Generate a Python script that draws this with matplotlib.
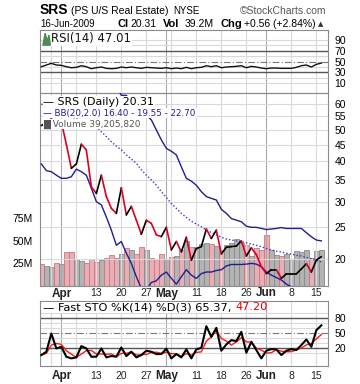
import matplotlib
matplotlib.use('Agg')
import matplotlib.pyplot as plt
import numpy as np
import pandas as pd
import matplotlib.transforms as mtrans

# ---------------- data ----------------
holidays = ['2009-04-10', '2009-05-25']
dates = [d for d in pd.bdate_range('2009-03-26', '2009-06-16') if d.strftime('%Y-%m-%d') not in holidays]

close = [51.5, 52.5, 54.0, 51.8, 52.8, 45.1, 38.0, 39.2, 45.1, 43.3,
         33.3, 31.8, 36.2, 31.1, 28.6, 27.6, 33.1, 27.3, 29.0, 26.3,
         23.8, 26.3, 25.7, 23.7, 23.4, 25.0, 21.3, 22.6, 21.0, 23.3,
         19.8, 21.5, 21.8, 24.7, 23.1, 24.5, 20.7, 21.7, 21.8, 21.9,
         22.7, 20.4, 21.6, 20.6, 18.9, 18.0, 18.5, 18.5, 17.4, 17.96,
         17.96, 17.96, 18.6, 19.3, 18.2, 19.8, 20.31]

bb_upper = [88.0, 86.0, 84.0, 82.0, 80.0, 79.0, 78.0, 76.0, 75.0, 74.0,
            73.0, 72.0, 71.0, 70.0, 69.0, 68.0, 63.8, 63.8, 61.0, 59.0,
            57.0, 55.5, 53.6, 49.9, 46.5, 43.8, 42.9, 41.8, 38.4, 35.4,
            34.7, 33.7, 32.2, 31.1, 30.7, 30.35, 28.4, 27.6, 26.6, 26.3,
            26.0, 25.2, 25.0, 25.0, 24.8, 24.6, 24.7, 24.8, 24.95, 24.8,
            24.8, 24.8, 24.8, 24.06, 23.38, 22.84, 22.70]

bb_mid = [60.0, 59.0, 58.0, 57.0, 56.0, 55.5, 54.8, 54.0, 53.3, 52.5,
          52.0, 51.07, 49.3, 47.6, 45.9, 44.5, 43.3, 41.8, 40.6, 39.4,
          37.6, 36.2, 34.98, 33.7, 32.2, 30.9, 29.6, 28.6, 27.6, 26.8,
          26.1, 25.6, 25.1, 24.5, 24.1, 23.7, 23.3, 23.0, 22.84, 22.7,
          22.57, 22.4, 22.2, 22.0, 21.78, 21.5, 21.3, 21.1, 20.97, 20.8,
          20.67, 20.5, 20.4, 20.2, 20.0, 19.8, 19.55]

bb_lower = [39.2, 37.4, 37.1, 36.2, 35.4, 35.4, 35.8, 37.8, 37.1, 36.2,
            33.0, 30.0, 29.3, 26.9, 24.5, 22.0, 22.6, 20.8, 19.35, 17.6,
            16.2, 16.0, 16.9, 17.1, 17.8, 18.2, 17.4, 16.7, 17.6, 18.5,
            17.8, 17.4, 18.0, 18.2, 18.2, 18.4, 18.5, 19.0, 19.2, 19.2,
            19.2, 19.25, 19.35, 19.25, 18.9, 18.2, 17.8, 17.5, 17.2, 16.7,
            16.4, 16.3, 16.2, 16.2, 16.3, 16.35, 16.40]

volume_m = [24.3, 22.1, 21.3, 25.0, 23.9, 37.2, 37.2, 29.8, 28.0, 25.0,
            29.4, 26.5, 28.3, 30.5, 34.2, 30.5, 35.3, 41.6, 39.7, 35.3,
            42.7, 39.7, 31.3, 29.4, 35.3, 29.8, 32.4, 33.1, 39.7, 49.7,
            43.4, 43.0, 46.0, 47.0, 46.0, 44.0, 40.0, 45.0, 48.0, 52.0,
            48.0, 45.0, 33.0, 42.0, 40.0, 56.3, 40.0, 34.0, 33.0, 35.0,
            30.0, 39.0, 37.0, 40.0, 31.0, 39.0, 39.2]

rsi = [40.4, 43.5, 46.6, 43.5, 42.9, 40.4, 38.5, 39.2, 42.2, 40.4,
       36.7, 38.5, 39.8, 37.3, 36.7, 37.3, 39.8, 38.5, 39.8, 38.5,
       37.3, 39.2, 38.5, 37.9, 37.3, 38.5, 36.7, 37.9, 36.7, 39.2,
       36.7, 38.5, 39.2, 42.2, 40.4, 42.2, 38.5, 39.8, 40.4, 41.0,
       42.2, 38.5, 41.0, 39.8, 37.9, 36.7, 37.9, 37.9, 37.3, 37.3,
       37.3, 39.2, 42.2, 43.5, 39.8, 44.8, 47.01]

sto_k = [6.9, 13.4, 49.3, 19.9, 23.2, 3.6, 0.3, 2.3, 24.5, 19.9,
         3.6, 3.6, 19.9, 2.3, 4.9, 3.6, 21.9, 4.9, 13.4, 2.3,
         6.9, 15.4, 13.4, 8.8, 8.8, 19.3, 0.3, 8.8, 2.3, 18.0,
         0.3, 18.0, 21.2, 63.7, 42.8, 60.5, 15.4, 27.8, 36.3, 34.3,
         52.6, 11.4, 33.0, 16.7, 0.3, 15.4, 18.6, 18.0, 6.9, 15.4,
         18.6, 16.7, 26.5, 37.6, 23.0, 55.9, 65.37]

sto_d = [6.9, 10.2, 26.5, 29.7, 28.0, 15.4, 8.8, 2.3, 8.8, 15.4,
         16.0, 9.0, 9.0, 8.5, 9.0, 3.6, 10.2, 10.2, 13.4, 6.9,
         7.5, 8.2, 11.9, 12.5, 10.3, 12.3, 9.5, 9.5, 3.8, 9.7,
         6.9, 12.1, 13.2, 34.3, 42.6, 55.7, 39.6, 34.6, 26.5, 32.8,
         41.1, 32.8, 32.3, 20.4, 16.7, 10.8, 11.4, 17.3, 14.5, 13.4,
         13.6, 16.9, 20.6, 26.9, 29.0, 38.8, 47.20]

price_ticks = [20, 25, 30, 35, 40, 45, 50, 55, 60]
rsi_ticks = [10, 30, 50, 70, 90]
sto_ticks = [20, 50, 80]
vol_ticks = [25, 50, 75]
vol_labels = ['25M', '50M', '75M']

# ---------------- layout helpers ----------------
W, H = 360, 384
fig = plt.figure(figsize=(W / 100, H / 100), dpi=100)
fig.patch.set_facecolor('white')

def ax_at(x0, y0, x1, y1):
    return fig.add_axes([x0 / W, 1 - y1 / H, (x1 - x0) / W, (y1 - y0) / H])

n = len(close)
x = np.arange(n)
XL = (-0.27, 57.33)
TICKF = 'Liberation Sans'
GRID = '#d9d9d9'
MONTHG = '#a8a8a8'
BORDER = '#8a8a8a'

# week / month gridlines from dates
week_idx, month_idx = [], []
for i, d in enumerate(dates):
    if i == 0:
        continue
    if d.month != dates[i - 1].month:
        month_idx.append(i)
    elif d.weekday() < dates[i - 1].weekday():
        week_idx.append(i)
label_idx, label_txt, label_bold = [], [], []
for i in sorted(set(week_idx + month_idx)):
    if i in month_idx:
        label_idx.append(i); label_txt.append(dates[i].strftime('%b')); label_bold.append(True)
    else:
        near = any(abs(i - m) <= 3 for m in month_idx)
        if not near:
            label_idx.append(i); label_txt.append(str(dates[i].day)); label_bold.append(False)

def style_panel(ax):
    ax.set_xlim(*XL)
    for s in ax.spines.values():
        s.set_color(BORDER); s.set_linewidth(0.8)
    ax.yaxis.tick_right()
    ax.tick_params(left=False, bottom=False, labelbottom=False, labelleft=False,
                   right=False, labelright=True, pad=1, labelsize=7.5)
    for i in week_idx:
        ax.axvline(i, color=GRID, lw=0.8, zorder=0)
    for i in month_idx:
        ax.axvline(i, color=MONTHG, lw=0.8, zorder=0)

def date_labels(y):
    for i, t, b in zip(label_idx, label_txt, label_bold):
        xp = 40 + (i - XL[0]) / (XL[1] - XL[0]) * 288
        fig.text(xp / W, 1 - y / H, t, ha='center', va='center', family=TICKF,
                 fontsize=8.5 if b else 7.5, fontweight='bold' if b else 'normal', color='#222')

# ---------------- header ----------------
fig.text(40 / W, 1 - 10 / H, 'SRS', family=TICKF, fontweight='bold', fontsize=10, va='center')
fig.text(71 / W, 1 - 10.5 / H, '(PS U/S Real Estate)', family=TICKF, fontsize=7.5, va='center')
fig.text(173 / W, 1 - 10.5 / H, 'NYSE', family=TICKF, fontsize=7, va='center')
fig.text(326 / W, 1 - 11 / H, '\u00a9StockCharts.com', family=TICKF, fontsize=7.5, va='center', ha='right', color='#555')
yl2 = 1 - 24 / H
fig.text(40 / W, yl2, '16-Jun-2009', family=TICKF, fontsize=7, va='center')
fig.text(117 / W, yl2, 'Cl', family=TICKF, fontsize=8, fontweight='bold', va='center')
fig.text(130 / W, yl2, '20.31', family=TICKF, fontsize=7.5, va='center')
fig.text(163 / W, yl2, 'Vol', family=TICKF, fontsize=8, fontweight='bold', va='center')
fig.text(185 / W, yl2, '39.2M', family=TICKF, fontsize=7.5, va='center')
fig.text(220 / W, yl2, 'Chg', family=TICKF, fontsize=8, fontweight='bold', va='center')
fig.text(244.5 / W, yl2, '+0.56 (+2.84%)', family=TICKF, fontsize=7.5, va='center')
fig.text(318 / W, yl2, '\u25b2', family='DejaVu Sans', fontsize=5, va='center', color='#333')

# ---------------- RSI panel ----------------
ax_r = ax_at(40, 30, 328, 93)
style_panel(ax_r)
ax_r.set_ylim(-8.3, 108.3)
for v in range(10, 100, 10):
    if v in (30, 70):
        ax_r.axhline(v, color='#555', lw=1.0, zorder=1)
    elif v == 50:
        ax_r.axhline(v, color='#777', lw=0.8, ls=(0, (6, 2, 1, 2)), zorder=1)
    else:
        ax_r.axhline(v, color=GRID, lw=0.8, zorder=0)
ax_r.plot(x, rsi, color='#111', lw=1.0, zorder=3)
ax_r.set_yticks(rsi_ticks)
ax_r.set_yticklabels([str(t) for t in rsi_ticks], family=TICKF)
ax_r.text(0.038, 0.865, 'RSI(14) 47.01', transform=ax_r.transAxes, fontsize=8.4, family='DejaVu Sans',
          va='center', ha='left', color='#111',
          bbox=dict(facecolor='white', edgecolor='none', pad=0.5), zorder=5)
ax_r.fill([0.010, 0.018, 0.025, 0.031, 0.036, 0.010], [0.76, 0.95, 0.82, 0.92, 0.76, 0.76],
          transform=ax_r.transAxes, color='#4f8a4f', zorder=6)

# ---------------- price panel ----------------
ax_p = ax_at(40, 93, 328, 286)
ax_p.set_yscale('log')
ax_v = ax_p.twinx()
style_panel(ax_p)
ax_p.set_ylim(16.48, 64.88)
for v in price_ticks:
    ax_p.axhline(v, color=GRID, lw=0.8, zorder=0)
ax_p.set_yticks(price_ticks)
ax_p.set_yticklabels([str(t) for t in price_ticks], family=TICKF)
ax_p.yaxis.set_minor_locator(matplotlib.ticker.NullLocator())
ax_p.yaxis.set_minor_formatter(matplotlib.ticker.NullFormatter())

ax_v.set_xlim(*XL)
ax_v.set_ylim(0, 213)
ax_v.set_zorder(ax_p.get_zorder() - 1)
ax_p.patch.set_visible(False)
for s in ax_v.spines.values():
    s.set_visible(False)
up = [i > 0 and close[i] >= close[i - 1] for i in range(n)]
for i in range(n):
    fc, ec = ('#b3b3b3', '#888888') if up[i] else ('#e6afb5', '#cf7480')
    ax_v.bar(x[i], volume_m[i], width=0.88, color=fc, edgecolor=ec, linewidth=0.6, zorder=1)
ax_v.yaxis.tick_left()
ax_v.set_yticks(vol_ticks)
ax_v.set_yticklabels(vol_labels, family=TICKF)
ax_v.tick_params(left=False, right=False, labelleft=True, labelright=False, labelsize=7.5, pad=2)

ax_p.plot(x, bb_upper, color='#1f1f8f', lw=1.0, zorder=3)
ax_p.plot(x, bb_lower, color='#1f1f8f', lw=1.0, zorder=3)
ax_p.plot(x, bb_mid, color='#3a3acc', lw=1.0, ls=(0, (1, 1.5)), zorder=3)
for i in range(1, n):
    c = '#000000' if close[i] >= close[i - 1] else '#dd0022'
    ax_p.plot(x[i - 1:i + 1], close[i - 1:i + 1], color=c, lw=1.2, zorder=4,
              solid_capstyle='round')

leg_kw = dict(transform=ax_p.transAxes, family='DejaVu Sans', va='center', ha='left',
              bbox=dict(facecolor='white', edgecolor='none', pad=0.6), zorder=6)
ax_p.text(0.012, 0.953, '\u2014 SRS (Daily) 20.31', color='#000', fontsize=7.9, **leg_kw)
ax_p.text(0.012, 0.896, '\u2014 BB(20,2.0) 16.40 - 19.55 - 22.70', color='#1f1f8f', fontsize=6.3, **leg_kw)
ax_p.text(0.012, 0.839, '\u2588 Volume 39,205,820', color='#555', fontsize=6.5, **leg_kw)

date_labels(293.5)

# ---------------- STO panel ----------------
ax_s = ax_at(40, 301, 328, 366)
style_panel(ax_s)
ax_s.set_ylim(-14.7, 113.4)
for v in range(10, 100, 10):
    if v in (20, 80):
        ax_s.axhline(v, color='#555', lw=1.0, zorder=1)
    elif v == 50:
        ax_s.axhline(v, color='#777', lw=0.8, ls=(0, (6, 2, 1, 2)), zorder=1)
    else:
        ax_s.axhline(v, color=GRID, lw=0.8, zorder=0)
ax_s.plot(x, sto_d, color='#ff1a1a', lw=1.0, zorder=3)
ax_s.plot(x, sto_k, color='#000', lw=1.5, zorder=4)
ax_s.set_yticks(sto_ticks)
ax_s.set_yticklabels([str(t) for t in sto_ticks], family=TICKF)
t1 = ax_s.text(0.012, 0.9, '\u2014 Fast STO %K(14) %D(3) 65.37, ', transform=ax_s.transAxes,
               fontsize=8.2, family='DejaVu Sans', va='center', ha='left', color='#000', zorder=6,
               bbox=dict(facecolor='white', edgecolor='none', pad=0.5))
fig.canvas.draw()
bb = t1.get_window_extent()
fig.text(bb.x1 / fig.bbox.width, 1 - (301 + 65 * 0.1) / H, '47.20', fontsize=8.2,
         family='DejaVu Sans', va='center', ha='left', color='#ee0000')

date_labels(376)

fig.savefig('out.png', dpi=100, facecolor='white')
